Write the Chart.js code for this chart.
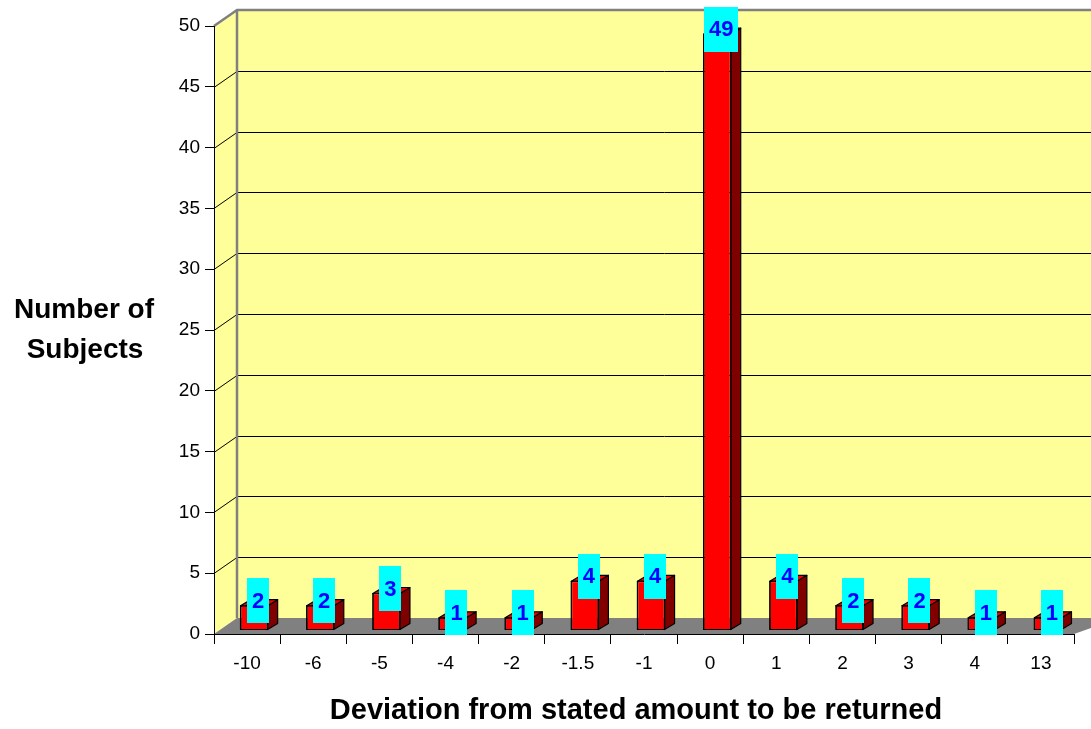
<!DOCTYPE html>
<html>
<head>
<meta charset="utf-8">
<script src="https://cdn.jsdelivr.net/npm/chart.js@4.4.1/dist/chart.umd.min.js"></script>
<style>
  html, body { margin: 0; padding: 0; background: #ffffff; }
  canvas { display: block; }
</style>
</head>
<body>
<canvas id="chart" width="1091" height="729"></canvas>
<script>
// Deviation categories and the number of subjects in each
const categories = ['-10', '-6', '-5', '-4', '-2', '-1.5', '-1', '0', '1', '2', '3', '4', '13'];
const counts = [2, 2, 3, 1, 1, 4, 4, 49, 4, 2, 2, 1, 1];

// Value axis ticks
const yMin = 0;
const yMax = 50;
const yStep = 5;

// Axis titles
const yTitleLines = ['Number of', 'Subjects'];
const xTitle = 'Deviation from stated amount to be returned';

const FONT = '"Liberation Sans", Arial, sans-serif';
const WALL_DEPTH = { dx: 23, dy: -16 };   // oblique offset of the back wall
const BAR_SHIFT = { dx: 7, dy: -4 };      // bars stand a little into the floor
const BAR_DEPTH = { dx: 10, dy: -6 };     // thickness of each bar

// Side wall, back wall, floor and grid lines behind the plot
const walls = {
  id: 'walls',
  beforeDraw(chart) {
    const { ctx, chartArea: a, scales: { y } } = chart;
    const dx = WALL_DEPTH.dx, dy = WALL_DEPTH.dy;
    const farRight = a.right + dx + 10;
    ctx.save();
    ctx.fillStyle = '#FFFF99';
    ctx.fillRect(a.left + dx, a.top + dy, farRight - (a.left + dx), a.bottom - a.top);
    ctx.beginPath();
    ctx.moveTo(a.left, a.bottom);
    ctx.lineTo(a.left, a.top);
    ctx.lineTo(a.left + dx, a.top + dy);
    ctx.lineTo(a.left + dx, a.bottom + dy);
    ctx.closePath();
    ctx.fill();

    ctx.fillStyle = '#808080';
    ctx.beginPath();
    ctx.moveTo(a.left, a.bottom);
    ctx.lineTo(a.left + dx, a.bottom + dy);
    ctx.lineTo(farRight, a.bottom + dy);
    ctx.lineTo(a.right + dx * 2, a.bottom + dy);
    ctx.lineTo(a.right, a.bottom);
    ctx.closePath();
    ctx.fill();

    ctx.strokeStyle = '#000000';
    ctx.lineWidth = 1;
    for (let v = yMin + yStep; v < yMax; v += yStep) {
      const py = Math.round(y.getPixelForValue(v)) + 0.5;
      ctx.beginPath();
      ctx.moveTo(a.left, py);
      ctx.lineTo(a.left + dx, py + dy);
      ctx.lineTo(farRight, py + dy);
      ctx.stroke();
    }

    ctx.strokeStyle = '#808080';
    ctx.lineWidth = 2.5;
    ctx.beginPath();
    ctx.moveTo(a.left, a.top);
    ctx.lineTo(a.left + dx, a.top + dy);
    ctx.lineTo(farRight, a.top + dy);
    ctx.moveTo(a.left + dx, a.top + dy);
    ctx.lineTo(a.left + dx, a.bottom + dy);
    ctx.stroke();
    ctx.restore();
  }
};

// Front faces are drawn by Chart.js, shifted into the floor; sides, tops and labels follow
const bars3d = {
  id: 'bars3d',
  beforeDatasetsDraw(chart) {
    chart.ctx.save();
    chart.ctx.translate(BAR_SHIFT.dx, BAR_SHIFT.dy);
  },
  afterDatasetsDraw(chart) {
    const ctx = chart.ctx;
    ctx.restore();
    const meta = chart.getDatasetMeta(0);
    const values = chart.data.datasets[0].data;
    const faces = meta.data.map(el => {
      const p = el.getProps(['x', 'y', 'base', 'width'], true);
      return {
        left: p.x - p.width / 2 + BAR_SHIFT.dx,
        right: p.x + p.width / 2 + BAR_SHIFT.dx,
        top: Math.min(p.y, p.base) + BAR_SHIFT.dy,
        bottom: Math.max(p.y, p.base) + BAR_SHIFT.dy
      };
    });
    ctx.save();
    ctx.strokeStyle = '#000000';
    ctx.lineWidth = 1.2;
    ctx.lineJoin = 'round';
    faces.forEach(f => {
      const ddx = BAR_DEPTH.dx, ddy = BAR_DEPTH.dy;
      ctx.fillStyle = '#800000';
      ctx.beginPath();
      ctx.moveTo(f.right, f.top);
      ctx.lineTo(f.right + ddx, f.top + ddy);
      ctx.lineTo(f.right + ddx, f.bottom + ddy);
      ctx.lineTo(f.right, f.bottom);
      ctx.closePath();
      ctx.fill();
      ctx.stroke();
      ctx.fillStyle = '#F00000';
      ctx.beginPath();
      ctx.moveTo(f.left, f.top);
      ctx.lineTo(f.left + ddx, f.top + ddy);
      ctx.lineTo(f.right + ddx, f.top + ddy);
      ctx.lineTo(f.right, f.top);
      ctx.closePath();
      ctx.fill();
      ctx.stroke();
      ctx.strokeRect(f.left, f.top, f.right - f.left, f.bottom - f.top);
    });

    // value labels on cyan boxes
    ctx.font = 'bold 22px ' + FONT;
    ctx.textAlign = 'center';
    ctx.textBaseline = 'middle';
    faces.forEach((f, i) => {
      const text = String(values[i]);
      const w = ctx.measureText(text).width + 10;
      const h = 45;
      const cx = (f.left + f.right) / 2 + 4;
      const cy = f.top - 5;
      ctx.fillStyle = '#00FFFF';
      ctx.fillRect(Math.round(cx - w / 2), Math.round(cy - h / 2), Math.round(w), h);
      ctx.fillStyle = '#0000FF';
      ctx.fillText(text, cx, cy + 1);
    });
    ctx.restore();
  }
};

// Horizontal axis titles
const titles = {
  id: 'titles',
  afterDraw(chart) {
    const { ctx, chartArea: a } = chart;
    ctx.save();
    ctx.fillStyle = '#000000';
    ctx.textAlign = 'center';
    ctx.textBaseline = 'alphabetic';
    ctx.font = 'bold 28px ' + FONT;
    ctx.fillText(yTitleLines[0], 84, 318);
    ctx.fillText(yTitleLines[1], 85, 358);
    ctx.font = 'bold 29px ' + FONT;
    ctx.fillText(xTitle, (a.left + a.right) / 2 - 8, 719);
    ctx.restore();
  }
};

new Chart(document.getElementById('chart'), {
  type: 'bar',
  data: {
    labels: categories,
    datasets: [{
      data: counts,
      backgroundColor: '#FF0000',
      borderColor: '#000000',
      borderWidth: 1,
      barPercentage: 0.41,
      categoryPercentage: 1
    }]
  },
  options: {
    responsive: false,
    animation: false,
    devicePixelRatio: 1,
    layout: { padding: { left: 0, top: 26, right: 17, bottom: 0 } },
    plugins: {
      legend: { display: false },
      tooltip: { enabled: false }
    },
    scales: {
      x: {
        offset: true,
        grid: { offset: true, drawOnChartArea: false, tickLength: 10, color: '#000000', lineWidth: 1 },
        border: { color: '#000000', width: 1 },
        ticks: { color: '#000000', font: { family: FONT, size: 19 }, padding: 8, maxRotation: 0, autoSkip: false },
        afterFit(scale) { scale.height = 95; }
      },
      y: {
        min: yMin,
        max: yMax,
        ticks: { stepSize: yStep, color: '#000000', font: { family: FONT, size: 19 }, padding: 5 },
        grid: { drawOnChartArea: false, tickLength: 9, color: '#000000', lineWidth: 1 },
        border: { color: '#000000', width: 1 },
        afterFit(scale) { scale.width = 214; }
      }
    }
  },
  plugins: [walls, bars3d, titles]
});
</script>
</body>
</html>
